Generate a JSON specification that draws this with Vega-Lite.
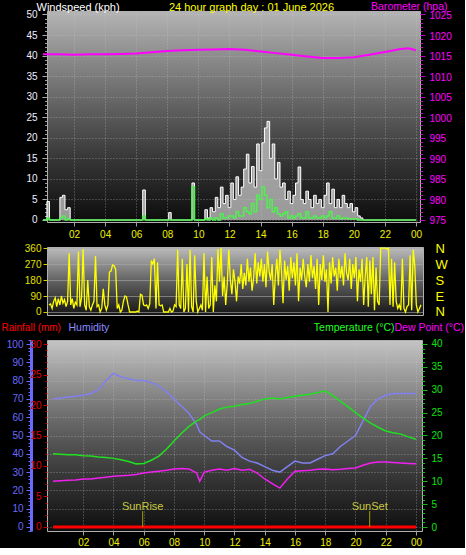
{
"$schema": "https://vega.github.io/schema/vega-lite/v6.json",
"background": "black",
"padding": 0,
"bounds": "flush",
"spacing": 25,
"config": {
  "font": "Liberation Sans",
  "axis": {"labelFont": "Liberation Sans", "labelFontSize": 10, "titleFont": "Liberation Sans", "titleFontSize": 11, "titleFontWeight": "normal", "labelFlush": false, "labelOverlap": false, "domain": false, "grid": false, "tickColor": "#a0a0a0"}
},
"datasets": {
  "wind": [
    {"h":0,"g":0,"a":0},{"h":0.17,"g":0,"a":0},{"h":0.33,"g":4.5,"a":0.5},{"h":0.5,"g":0,"a":0},{"h":0.67,"g":0,"a":0},{"h":0.83,"g":0,"a":0},
    {"h":1,"g":0,"a":0},{"h":1.17,"g":5.5,"a":0.5},{"h":1.33,"g":6,"a":1},{"h":1.5,"g":2.5,"a":0},{"h":1.67,"g":3,"a":0.3},{"h":1.83,"g":0,"a":0},
    {"h":2,"g":0,"a":0},{"h":2.17,"g":0,"a":0},{"h":2.33,"g":0,"a":0},{"h":2.5,"g":0,"a":0},{"h":2.67,"g":0,"a":0},{"h":2.83,"g":0,"a":0},
    {"h":3,"g":0,"a":0},{"h":3.17,"g":0,"a":0},{"h":3.33,"g":0,"a":0},{"h":3.5,"g":0,"a":0},{"h":3.67,"g":0,"a":0},{"h":3.83,"g":0,"a":0},
    {"h":4,"g":0,"a":0},{"h":4.17,"g":0,"a":0},{"h":4.33,"g":0,"a":0},{"h":4.5,"g":0,"a":0},{"h":4.67,"g":0,"a":0},{"h":4.83,"g":0,"a":0},
    {"h":5,"g":0,"a":0},{"h":5.17,"g":0,"a":0},{"h":5.33,"g":0,"a":0},{"h":5.5,"g":0,"a":0},{"h":5.67,"g":0,"a":0},{"h":5.83,"g":0,"a":0},
    {"h":6,"g":0,"a":0},{"h":6.17,"g":0,"a":0},{"h":6.33,"g":0,"a":0},{"h":6.5,"g":7.3,"a":1},{"h":6.67,"g":0,"a":0},{"h":6.83,"g":0,"a":0},
    {"h":7,"g":0,"a":0},{"h":7.17,"g":0,"a":0},{"h":7.33,"g":0,"a":0},{"h":7.5,"g":0,"a":0},{"h":7.67,"g":0,"a":0},{"h":7.83,"g":0,"a":0},
    {"h":8,"g":0,"a":0},{"h":8.17,"g":1.8,"a":0},{"h":8.33,"g":0,"a":0},{"h":8.5,"g":0,"a":0},{"h":8.67,"g":0,"a":0},{"h":8.83,"g":0,"a":0},
    {"h":9,"g":0,"a":0},{"h":9.17,"g":0,"a":0},{"h":9.33,"g":0,"a":0},{"h":9.5,"g":0,"a":0},{"h":9.67,"g":9,"a":8},{"h":9.83,"g":0,"a":0},
    {"h":10,"g":0,"a":0},{"h":10.17,"g":0,"a":0},{"h":10.33,"g":0,"a":0},{"h":10.5,"g":2.5,"a":0.3},{"h":10.67,"g":0.5,"a":0},{"h":10.83,"g":3,"a":0.5},
    {"h":11,"g":2,"a":0},{"h":11.17,"g":5.5,"a":0.5},{"h":11.33,"g":3,"a":0},{"h":11.5,"g":8,"a":1.5},{"h":11.67,"g":4,"a":0.5},{"h":11.83,"g":6,"a":0.5},
    {"h":12,"g":3,"a":1},{"h":12.17,"g":9,"a":1},{"h":12.33,"g":5,"a":0.5},{"h":12.5,"g":10.5,"a":2},{"h":12.67,"g":6,"a":1},{"h":12.83,"g":8,"a":1},
    {"h":13,"g":12.4,"a":3},{"h":13.17,"g":16,"a":2},{"h":13.33,"g":9,"a":1.5},{"h":13.5,"g":13,"a":4},{"h":13.67,"g":8,"a":2},{"h":13.83,"g":18.5,"a":6},
    {"h":14,"g":12,"a":5},{"h":14.17,"g":18.8,"a":8},{"h":14.33,"g":22.4,"a":6},{"h":14.5,"g":24,"a":3},{"h":14.67,"g":15,"a":5},{"h":14.83,"g":18.5,"a":2},
    {"h":15,"g":10,"a":3},{"h":15.17,"g":14,"a":1.5},{"h":15.33,"g":8,"a":1},{"h":15.5,"g":9,"a":1.5},{"h":15.67,"g":5,"a":2},{"h":15.83,"g":7,"a":0.5},
    {"h":16,"g":4,"a":1},{"h":16.17,"g":6,"a":0.5},{"h":16.33,"g":9,"a":1},{"h":16.5,"g":12.9,"a":1.5},{"h":16.67,"g":5,"a":0.5},{"h":16.83,"g":4,"a":0.5},
    {"h":17,"g":7,"a":2},{"h":17.17,"g":5,"a":0.5},{"h":17.33,"g":3,"a":0.5},{"h":17.5,"g":6,"a":1},{"h":17.67,"g":4,"a":0.5},{"h":17.83,"g":5,"a":0.5},
    {"h":18,"g":3,"a":1},{"h":18.17,"g":6,"a":0.5},{"h":18.33,"g":9,"a":1},{"h":18.5,"g":4,"a":2},{"h":18.67,"g":7.5,"a":0.5},{"h":18.83,"g":3,"a":0.5},
    {"h":19,"g":5,"a":1},{"h":19.17,"g":3,"a":0.3},{"h":19.33,"g":6,"a":0.5},{"h":19.5,"g":4,"a":0.5},{"h":19.67,"g":3,"a":0.3},{"h":19.83,"g":4,"a":0.3},
    {"h":20,"g":2,"a":0.3},{"h":20.17,"g":3,"a":0.3},{"h":20.33,"g":1,"a":0},{"h":20.5,"g":0.5,"a":0},{"h":20.67,"g":0,"a":0},{"h":20.83,"g":0,"a":0},
    {"h":21,"g":0,"a":0},{"h":21.17,"g":0,"a":0},{"h":21.33,"g":0,"a":0},{"h":21.5,"g":0,"a":0},{"h":21.67,"g":0,"a":0},{"h":21.83,"g":0,"a":0},
    {"h":22,"g":0,"a":0},{"h":22.17,"g":0,"a":0},{"h":22.33,"g":0,"a":0},{"h":22.5,"g":0,"a":0},{"h":22.67,"g":0,"a":0},{"h":22.83,"g":0,"a":0},
    {"h":23,"g":0,"a":0},{"h":23.17,"g":0,"a":0},{"h":23.33,"g":0,"a":0},{"h":23.5,"g":0,"a":0},{"h":23.67,"g":0,"a":0},{"h":23.83,"g":0,"a":0},
    {"h":24,"g":0,"a":0}
  ],
  "baro": [
    {"h":0,"b":1015.3},{"h":1,"b":1015.3},{"h":2,"b":1015.2},{"h":3,"b":1015.3},{"h":4,"b":1015.3},{"h":5,"b":1015.4},{"h":6,"b":1015.5},
    {"h":7,"b":1015.8},{"h":8,"b":1016.1},{"h":9,"b":1016.3},{"h":10,"b":1016.4},{"h":11,"b":1016.5},{"h":12,"b":1016.6},{"h":13,"b":1016.4},
    {"h":14,"b":1016.0},{"h":15,"b":1015.6},{"h":16,"b":1015.2},{"h":17,"b":1014.8},{"h":18,"b":1014.4},{"h":19,"b":1014.4},{"h":20,"b":1014.6},
    {"h":21,"b":1015.2},{"h":22,"b":1015.9},{"h":23,"b":1016.6},{"h":23.5,"b":1016.8},{"h":24,"b":1016.3}
  ],
  "dir": [
    {"h":0,"d":40},{"h":0.1,"d":45},{"h":0.2,"d":20},{"h":0.3,"d":60},{"h":0.4,"d":80},{"h":0.5,"d":30},{"h":0.6,"d":75},{"h":0.7,"d":40},{"h":0.8,"d":90},{"h":0.9,"d":50},
    {"h":1,"d":70},{"h":1.1,"d":30},{"h":1.2,"d":60},{"h":1.3,"d":330},{"h":1.4,"d":40},{"h":1.5,"d":75},{"h":1.6,"d":20},{"h":1.7,"d":55},{"h":1.8,"d":40},{"h":1.9,"d":340},
    {"h":2,"d":30},{"h":2.1,"d":80},{"h":2.2,"d":355},{"h":2.3,"d":40},{"h":2.4,"d":10},{"h":2.5,"d":180},{"h":2.6,"d":30},{"h":2.7,"d":10},{"h":2.8,"d":40},{"h":2.9,"d":60},
    {"h":3,"d":315},{"h":3.1,"d":30},{"h":3.2,"d":40},{"h":3.3,"d":0},{"h":3.4,"d":20},{"h":3.5,"d":130},{"h":3.6,"d":40},{"h":3.7,"d":10},{"h":3.8,"d":40},{"h":3.9,"d":225},
    {"h":4,"d":230},{"h":4.1,"d":265},{"h":4.2,"d":260},{"h":4.3,"d":240},{"h":4.4,"d":20},{"h":4.5,"d":40},{"h":4.6,"d":0},{"h":4.7,"d":10},{"h":4.8,"d":60},{"h":4.9,"d":90},
    {"h":5,"d":85},{"h":5.1,"d":40},{"h":5.2,"d":0},{"h":5.3,"d":0},{"h":5.4,"d":0},{"h":5.5,"d":0},{"h":5.6,"d":0},{"h":5.7,"d":5},{"h":5.8,"d":0},{"h":5.9,"d":100},
    {"h":6,"d":95},{"h":6.1,"d":40},{"h":6.2,"d":35},{"h":6.3,"d":40},{"h":6.4,"d":20},{"h":6.5,"d":45},{"h":6.6,"d":290},{"h":6.7,"d":270},{"h":6.8,"d":300},{"h":6.9,"d":20},
    {"h":7,"d":280},{"h":7.1,"d":40},{"h":7.2,"d":35},{"h":7.3,"d":40},{"h":7.4,"d":0},{"h":7.5,"d":0},{"h":7.6,"d":0},{"h":7.7,"d":0},{"h":7.8,"d":20},{"h":7.9,"d":0},
    {"h":8,"d":5},{"h":8.1,"d":40},{"h":8.2,"d":30},{"h":8.3,"d":350},{"h":8.4,"d":40},{"h":8.5,"d":20},{"h":8.6,"d":300},{"h":8.7,"d":0},{"h":8.8,"d":20},{"h":8.9,"d":270},
    {"h":9,"d":0},{"h":9.1,"d":350},{"h":9.2,"d":30},{"h":9.3,"d":0},{"h":9.4,"d":320},{"h":9.5,"d":60},{"h":9.6,"d":0},{"h":9.7,"d":20},{"h":9.8,"d":40},{"h":9.9,"d":10},
    {"h":10,"d":330},{"h":10.1,"d":0},{"h":10.2,"d":200},{"h":10.3,"d":20},{"h":10.4,"d":40},{"h":10.5,"d":310},{"h":10.6,"d":0},{"h":10.7,"d":150},{"h":10.8,"d":60},{"h":10.9,"d":355},
    {"h":11,"d":170},{"h":11.1,"d":360},{"h":11.2,"d":90},{"h":11.3,"d":200},{"h":11.4,"d":40},{"h":11.5,"d":160},{"h":11.6,"d":350},{"h":11.7,"d":180},{"h":11.8,"d":100},{"h":11.9,"d":240},
    {"h":12,"d":170},{"h":12.1,"d":60},{"h":12.2,"d":200},{"h":12.3,"d":160},{"h":12.4,"d":270},{"h":12.5,"d":130},{"h":12.6,"d":220},{"h":12.7,"d":150},{"h":12.8,"d":300},{"h":12.9,"d":170},
    {"h":13,"d":250},{"h":13.1,"d":120},{"h":13.2,"d":190},{"h":13.3,"d":330},{"h":13.4,"d":160},{"h":13.5,"d":280},{"h":13.6,"d":200},{"h":13.7,"d":300},{"h":13.8,"d":170},{"h":13.9,"d":270},
    {"h":14,"d":140},{"h":14.1,"d":340},{"h":14.2,"d":230},{"h":14.3,"d":180},{"h":14.4,"d":270},{"h":14.5,"d":40},{"h":14.6,"d":200},{"h":14.7,"d":300},{"h":14.8,"d":150},{"h":14.9,"d":350},
    {"h":15,"d":230},{"h":15.1,"d":50},{"h":15.2,"d":290},{"h":15.3,"d":180},{"h":15.4,"d":260},{"h":15.5,"d":120},{"h":15.6,"d":310},{"h":15.7,"d":190},{"h":15.8,"d":280},{"h":15.9,"d":150},
    {"h":16,"d":330},{"h":16.1,"d":60},{"h":16.2,"d":250},{"h":16.3,"d":180},{"h":16.4,"d":300},{"h":16.5,"d":200},{"h":16.6,"d":140},{"h":16.7,"d":270},{"h":16.8,"d":170},{"h":16.9,"d":320},
    {"h":17,"d":190},{"h":17.1,"d":260},{"h":17.2,"d":130},{"h":17.3,"d":300},{"h":17.4,"d":40},{"h":17.5,"d":270},{"h":17.6,"d":180},{"h":17.7,"d":320},{"h":17.8,"d":170},{"h":17.9,"d":240},
    {"h":18,"d":0},{"h":18.1,"d":280},{"h":18.2,"d":160},{"h":18.3,"d":310},{"h":18.4,"d":200},{"h":18.5,"d":250},{"h":18.6,"d":120},{"h":18.7,"d":300},{"h":18.8,"d":190},{"h":18.9,"d":260},
    {"h":19,"d":150},{"h":19.1,"d":330},{"h":19.2,"d":220},{"h":19.3,"d":180},{"h":19.4,"d":300},{"h":19.5,"d":130},{"h":19.6,"d":270},{"h":19.7,"d":190},{"h":19.8,"d":310},{"h":19.9,"d":60},
    {"h":20,"d":240},{"h":20.1,"d":170},{"h":20.2,"d":300},{"h":20.3,"d":40},{"h":20.4,"d":200},{"h":20.5,"d":310},{"h":20.6,"d":30},{"h":20.7,"d":290},{"h":20.8,"d":100},{"h":20.9,"d":310},
    {"h":21,"d":10},{"h":21.1,"d":250},{"h":21.2,"d":60},{"h":21.3,"d":40},{"h":21.4,"d":360},{"h":21.5,"d":360},{"h":21.6,"d":360},{"h":21.7,"d":360},{"h":21.8,"d":355},{"h":21.9,"d":360},
    {"h":22,"d":40},{"h":22.1,"d":300},{"h":22.2,"d":30},{"h":22.3,"d":280},{"h":22.4,"d":60},{"h":22.5,"d":20},{"h":22.6,"d":40},{"h":22.7,"d":10},{"h":22.8,"d":300},{"h":22.9,"d":20},
    {"h":23,"d":0},{"h":23.1,"d":30},{"h":23.2,"d":40},{"h":23.3,"d":320},{"h":23.4,"d":10},{"h":23.5,"d":350},{"h":23.6,"d":260},{"h":23.7,"d":40},{"h":23.8,"d":0},{"h":23.9,"d":20},
    {"h":24,"d":40}
  ],
  "thp": [
    {"h":0,"hum":70,"temp":16.0,"dew":10.0,"rain":0},{"h":0.5,"hum":70.5,"temp":15.9,"dew":10.1,"rain":0},{"h":1,"hum":71,"temp":15.8,"dew":10.2,"rain":0},
    {"h":1.5,"hum":71.5,"temp":15.8,"dew":10.3,"rain":0},{"h":2,"hum":72,"temp":15.6,"dew":10.5,"rain":0},{"h":2.5,"hum":73,"temp":15.5,"dew":10.5,"rain":0},
    {"h":3,"hum":75,"temp":15.3,"dew":10.7,"rain":0},{"h":3.5,"hum":80,"temp":15.2,"dew":10.9,"rain":0},{"h":4,"hum":84,"temp":15.0,"dew":11.1,"rain":0},
    {"h":4.5,"hum":82,"temp":14.7,"dew":11.2,"rain":0},{"h":5,"hum":81,"temp":14.3,"dew":11.3,"rain":0},{"h":5.5,"hum":80,"temp":13.8,"dew":11.5,"rain":0},
    {"h":6,"hum":80,"temp":13.9,"dew":11.8,"rain":0},{"h":6.5,"hum":79,"temp":14.6,"dew":12.0,"rain":0},{"h":7,"hum":77,"temp":15.5,"dew":12.2,"rain":0},
    {"h":7.5,"hum":74,"temp":17.0,"dew":12.4,"rain":0},{"h":8,"hum":70,"temp":18.8,"dew":12.7,"rain":0},{"h":8.5,"hum":66,"temp":20.5,"dew":12.8,"rain":0},
    {"h":9,"hum":62,"temp":22.0,"dew":12.7,"rain":0},{"h":9.5,"hum":56,"temp":23.2,"dew":11.8,"rain":0},{"h":9.7,"hum":52,"temp":23.5,"dew":10.0,"rain":0},
    {"h":10,"hum":50,"temp":24.3,"dew":12.0,"rain":0},{"h":10.5,"hum":47,"temp":25.0,"dew":12.4,"rain":0},{"h":11,"hum":47,"temp":25.8,"dew":12.7,"rain":0},
    {"h":11.5,"hum":44,"temp":26.2,"dew":12.4,"rain":0},{"h":12,"hum":42,"temp":26.4,"dew":12.8,"rain":0},{"h":12.5,"hum":38,"temp":26.8,"dew":12.4,"rain":0},
    {"h":13,"hum":36,"temp":27.0,"dew":12.6,"rain":0},{"h":13.5,"hum":35,"temp":27.5,"dew":11.8,"rain":0},{"h":14,"hum":33,"temp":28.0,"dew":10.5,"rain":0},
    {"h":14.5,"hum":31,"temp":28.2,"dew":9.5,"rain":0},{"h":15,"hum":30,"temp":28.0,"dew":8.5,"rain":0},{"h":15.5,"hum":33,"temp":28.3,"dew":10.5,"rain":0},
    {"h":16,"hum":36,"temp":28.6,"dew":12.2,"rain":0},{"h":16.5,"hum":35,"temp":28.8,"dew":12.3,"rain":0},{"h":17,"hum":35,"temp":29.0,"dew":12.4,"rain":0},
    {"h":17.5,"hum":37,"temp":29.4,"dew":12.6,"rain":0},{"h":18,"hum":39,"temp":29.7,"dew":12.7,"rain":0},{"h":18.5,"hum":40,"temp":28.7,"dew":12.5,"rain":0},
    {"h":19,"hum":44,"temp":27.5,"dew":12.6,"rain":0},{"h":19.5,"hum":47,"temp":26.3,"dew":12.8,"rain":0},{"h":20,"hum":50,"temp":25.0,"dew":12.9,"rain":0},
    {"h":20.5,"hum":58,"temp":23.8,"dew":13.5,"rain":0},{"h":21,"hum":66,"temp":22.7,"dew":14.0,"rain":0},{"h":21.5,"hum":70,"temp":21.8,"dew":14.2,"rain":0},
    {"h":22,"hum":72,"temp":21.0,"dew":14.2,"rain":0},{"h":22.5,"hum":73,"temp":20.6,"dew":14.1,"rain":0},{"h":23,"hum":73,"temp":20.3,"dew":14.0,"rain":0},
    {"h":23.5,"hum":73,"temp":19.7,"dew":13.9,"rain":0},{"h":24,"hum":73,"temp":19.2,"dew":13.8,"rain":0}
  ],
  "sun": [{"h":5.93,"label":"SunRise"},{"h":20.94,"label":"SunSet"}]
},
"vconcat": [
  {
    "width": 373, "height": 211,
    "view": {"stroke": "#b0b0b0", "fill": {"gradient": "linear", "x1": 0, "y1": 0, "x2": 0, "y2": 1, "stops": [{"offset": 0, "color": "#b4b4b4"}, {"offset": 0.4, "color": "#6a6a6a"}, {"offset": 0.7, "color": "#363636"}, {"offset": 1, "color": "#0c0c0c"}]}},
    "data": {"name": "wind"},
    "encoding": {
      "x": {"field": "h", "type": "quantitative", "scale": {"domain": [0.257, 24.26], "nice": false, "zero": false},
        "axis": {"values": [2,4,6,8,10,12,14,16,18,20,22,24], "labelExpr": "datum.value == 24 ? '00' : (datum.value < 10 ? '0' + datum.value : '' + datum.value)", "labelColor": "#f0f000", "tickSize": 4, "labelPadding": 3, "grid": true, "gridColor": "#c8c8c8", "gridDash": [1, 2], "gridOpacity": 0.5,
          "title": "24 hour graph day : 01 June 2026", "titleColor": "#ffff00", "titleX": 204, "titleY": -221, "titleAlign": "center", "titleBaseline": "top", "titleAngle": 0}}
    },
    "layer": [
      {"mark": {"type": "area", "interpolate": "step", "color": "#c8c8c8", "opacity": 0.75},
       "encoding": {"y": {"field": "g", "type": "quantitative", "scale": {"domain": [-0.49, 50.85], "nice": false, "zero": false},
         "axis": {"orient": "left", "values": [0,5,10,15,20,25,30,35,40,45,50], "labelColor": "#eeeeff", "tickColor": "#b0b0b0", "tickSize": 5, "labelPadding": 5, "grid": true, "gridColor": "#c8c8c8", "gridDash": [1, 2], "gridOpacity": 0.5,
           "title": "Windspeed (kph)", "titleColor": "#ffffff", "titleAngle": 0, "titleX": -11, "titleY": -10, "titleAlign": "left", "titleBaseline": "top"}}}},
      {"mark": {"type": "line", "interpolate": "step", "color": "#ffffff", "strokeWidth": 1},
       "encoding": {"y": {"field": "g", "type": "quantitative", "scale": {"domain": [-0.49, 50.85], "nice": false, "zero": false}, "axis": null}}},
      {"mark": {"type": "line", "interpolate": "step", "color": "#50f050", "strokeWidth": 1.5},
       "encoding": {"y": {"field": "a", "type": "quantitative", "scale": {"domain": [-0.49, 50.85], "nice": false, "zero": false}, "axis": null}}},
      {"mark": {"type": "point", "opacity": 0},
       "encoding": {"y": {"field": "g", "type": "quantitative", "scale": {"domain": [-0.49, 50.85], "nice": false, "zero": false},
         "axis": {"orient": "left", "tickCount": 50, "labels": false, "tickSize": 2.5, "tickColor": "#a0a0a0", "title": null}}}},
      {"data": {"name": "baro"}, "mark": {"type": "line", "color": "#ff00ff", "strokeWidth": 2},
       "encoding": {"y": {"field": "b", "type": "quantitative", "scale": {"domain": [974.51, 1025.85], "nice": false, "zero": false},
         "axis": {"orient": "right", "format": "d", "values": [975,980,985,990,995,1000,1005,1010,1015,1020,1025], "labelColor": "#ff00ff", "tickColor": "#c000c0", "tickSize": 5, "labelPadding": 4, "labelOffset": 1,
           "title": "Barometer (hpa)", "titleFontSize": 10.5, "titleColor": "#ff00ff", "titleAngle": 0, "titleX": 27, "titleY": -10, "titleAlign": "right", "titleBaseline": "top"}}}},
      {"data": {"name": "baro"}, "mark": {"type": "point", "opacity": 0},
       "encoding": {"y": {"field": "b", "type": "quantitative", "scale": {"domain": [974.51, 1025.85], "nice": false, "zero": false},
         "axis": {"orient": "right", "tickCount": 50, "labels": false, "tickSize": 2.5, "tickColor": "#c000c0", "title": null}}}}
    ],
    "resolve": {"scale": {"y": "independent"}}
  },
  {
    "width": 376, "height": 68,
    "view": {"stroke": "#b0b0b0", "fill": {"gradient": "linear", "x1": 0, "y1": 0, "x2": 0, "y2": 1, "stops": [{"offset": 0, "color": "#bcbcbc"}, {"offset": 0.5, "color": "#606060"}, {"offset": 1, "color": "#141414"}]}},
    "data": {"name": "dir"},
    "encoding": {"x": {"field": "h", "type": "quantitative", "scale": {"domain": [-0.13, 24.13], "nice": false, "zero": false}, "axis": null}},
    "layer": [
      {"mark": {"type": "line", "color": "#ffff00", "strokeWidth": 1.3},
       "encoding": {"y": {"field": "d", "type": "quantitative", "scale": {"domain": [-17, 366], "nice": false, "zero": false},
         "axis": {"orient": "left", "values": [0,90,180,270,360], "labelColor": "#e0e000", "tickColor": "#d0d000", "tickSize": 4, "labelPadding": 2, "grid": true, "gridColor": "#a8a8a8", "gridOpacity": 0.6, "title": null}}}},
      {"mark": {"type": "point", "opacity": 0},
       "encoding": {"y": {"field": "d", "type": "quantitative", "scale": {"domain": [-17, 366], "nice": false, "zero": false},
         "axis": {"orient": "right", "values": [0,90,180,270,360], "labelExpr": "datum.value == 90 ? 'E' : datum.value == 180 ? 'S' : datum.value == 270 ? 'W' : 'N'", "ticks": false, "labelColor": "#ffff00", "labelFontSize": 13, "labelPadding": 12, "title": null}}}}
    ],
    "resolve": {"scale": {"y": "independent"}}
  },
  {
    "width": 375, "height": 191,
    "view": {"stroke": "#b0b0b0", "fill": {"gradient": "linear", "x1": 0, "y1": 0, "x2": 0, "y2": 1, "stops": [{"offset": 0, "color": "#c4c4c4"}, {"offset": 0.4, "color": "#6c6c6c"}, {"offset": 0.7, "color": "#383838"}, {"offset": 1, "color": "#0e0e0e"}]}},
    "data": {"name": "thp"},
    "encoding": {
      "x": {"field": "h", "type": "quantitative", "scale": {"domain": [-0.397, 24.4], "nice": false, "zero": false},
        "axis": {"values": [2,4,6,8,10,12,14,16,18,20,22,24], "labelExpr": "datum.value == 24 ? '00' : (datum.value < 10 ? '0' + datum.value : '' + datum.value)", "labelColor": "#f0f000", "tickSize": 4, "labelPadding": 2, "grid": true, "gridColor": "#c8c8c8", "gridDash": [1, 2], "gridOpacity": 0.5, "title": null}}
    },
    "layer": [
      {"mark": {"type": "line", "color": "#8080f0", "strokeWidth": 1.5},
       "encoding": {"y": {"field": "hum", "type": "quantitative", "scale": {"domain": [-2.19, 102.2], "nice": false, "zero": false},
         "axis": {"orient": "left", "offset": 16, "values": [0,10,20,30,40,50,60,70,80,90,100], "labelColor": "#6a6aff", "tickColor": "#6a6aff", "tickSize": 5, "labelPadding": 3, "domain": true, "domainColor": "#6a6aff", "domainWidth": 3,
           "grid": true, "gridColor": "#c8c8c8", "gridDash": [1, 2], "gridOpacity": 0.5,
           "title": "Humidity", "titleFontSize": 10.5, "titleColor": "#8c8cff", "titleAngle": 0, "titleX": 37, "titleY": -18, "titleAlign": "left", "titleBaseline": "top"}}}},
      {"mark": {"type": "point", "opacity": 0},
       "encoding": {"y": {"field": "hum", "type": "quantitative", "scale": {"domain": [-2.19, 102.2], "nice": false, "zero": false},
         "axis": {"orient": "left", "offset": 16, "tickCount": 50, "labels": false, "tickSize": 3, "tickColor": "#6a6aff", "title": null}}}},
      {"mark": {"type": "line", "color": "#ff0000", "strokeWidth": 3},
       "encoding": {"y": {"field": "rain", "type": "quantitative", "scale": {"domain": [-0.66, 30.66], "nice": false, "zero": false},
         "axis": {"orient": "left", "values": [0,5,10,15,20,25,30], "labelColor": "#e00000", "tickColor": "#c00000", "tickSize": 4, "labelPadding": 2,
           "title": "Rainfall (mm)", "titleFontSize": 10, "titleColor": "#ff0000", "titleAngle": 0, "titleX": -46, "titleY": -18, "titleAlign": "left", "titleBaseline": "top"}}}},
      {"mark": {"type": "point", "opacity": 0},
       "encoding": {"y": {"field": "rain", "type": "quantitative", "scale": {"domain": [-0.66, 30.66], "nice": false, "zero": false},
         "axis": {"orient": "left", "tickCount": 30, "labels": false, "tickSize": 2, "tickColor": "#c00000", "title": null}}}},
      {"mark": {"type": "line", "color": "#20e020", "strokeWidth": 1.5},
       "encoding": {"y": {"field": "temp", "type": "quantitative", "scale": {"domain": [-0.87, 40.87], "nice": false, "zero": false},
         "axis": {"orient": "right", "values": [0,5,10,15,20,25,30,35,40], "labelColor": "#10e010", "tickColor": "#10c010", "tickSize": 5, "labelPadding": 4,
           "title": "Temperature (°C)", "titleFontSize": 10.5, "titleColor": "#20ff20", "titleAngle": 0, "titleX": -28, "titleY": -18, "titleAlign": "right", "titleBaseline": "top"}}}},
      {"mark": {"type": "point", "opacity": 0},
       "encoding": {"y": {"field": "temp", "type": "quantitative", "scale": {"domain": [-0.87, 40.87], "nice": false, "zero": false},
         "axis": {"orient": "right", "tickCount": 40, "labels": false, "tickSize": 2.5, "tickColor": "#10c010", "title": null}}}},
      {"mark": {"type": "line", "color": "#f020f0", "strokeWidth": 1.5},
       "encoding": {"y": {"field": "dew", "type": "quantitative", "scale": {"domain": [-0.87, 40.87], "nice": false, "zero": false},
         "axis": {"orient": "right", "labels": false, "ticks": false,
           "title": "Dew Point (°C)", "titleFontSize": 10.5, "titleColor": "#ff00ff", "titleAngle": 0, "titleX": -28, "titleY": -18, "titleAlign": "left", "titleBaseline": "top"}}}},
      {"data": {"name": "sun"}, "mark": {"type": "rule", "color": "#a0a000", "strokeWidth": 1},
       "encoding": {"y": {"datum": 0, "type": "quantitative", "scale": {"domain": [-0.66, 30.66], "nice": false, "zero": false}, "axis": null}, "y2": {"datum": 2.6}}},
      {"data": {"name": "sun"}, "mark": {"type": "text", "color": "#c8c840", "fontSize": 11, "baseline": "middle", "font": "Liberation Sans"},
       "encoding": {"y": {"datum": 3.2, "type": "quantitative", "scale": {"domain": [-0.66, 30.66], "nice": false, "zero": false}, "axis": null}, "text": {"field": "label"}}}
    ],
    "resolve": {"scale": {"y": "independent"}}
  }
]
}
